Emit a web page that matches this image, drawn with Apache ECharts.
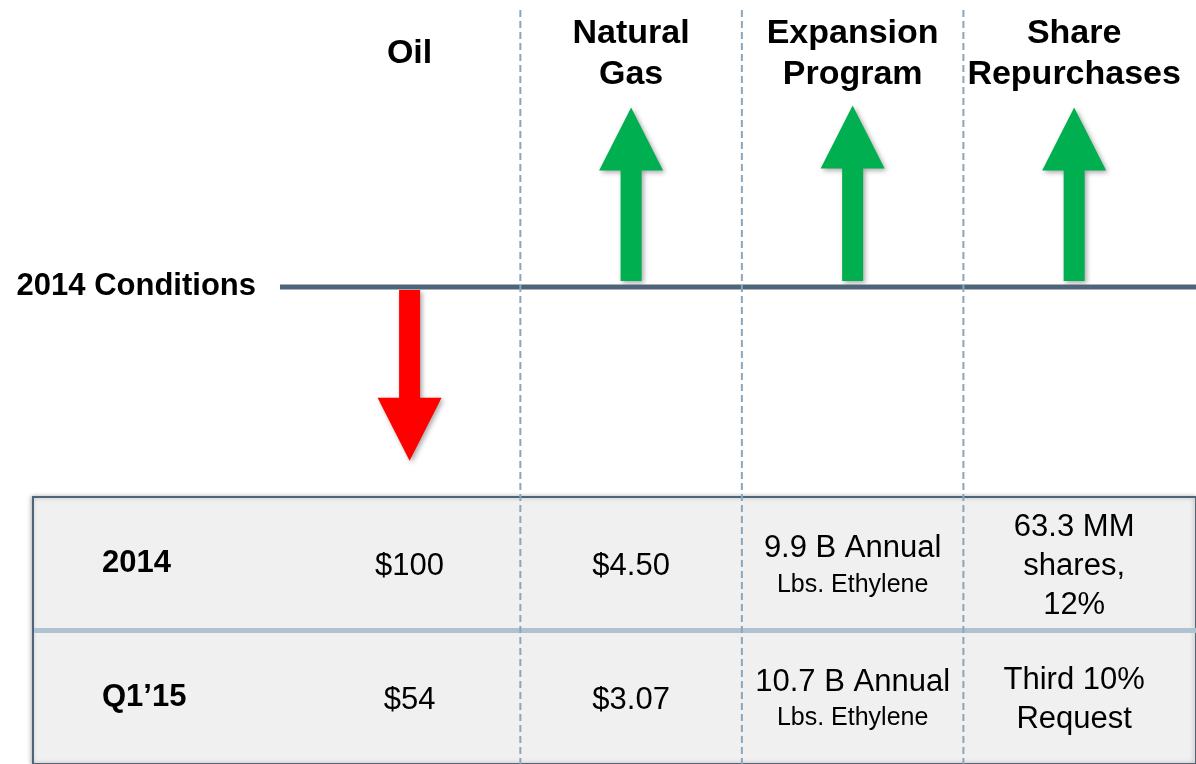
<!DOCTYPE html>
<html>
<head>
<meta charset="utf-8">
<script src="https://cdn.jsdelivr.net/npm/echarts@6/dist/echarts.min.js"></script>
<style>
  html, body { margin: 0; padding: 0; background: #fff; }
  #chart { width: 1196px; height: 764px; }
</style>
</head>
<body>
<div id="chart"></div>
<script>
// columns of the slide
const columns = ['Oil', 'Natural Gas', 'Expansion Program', 'Share Repurchases']
// arrow length per column, measured from the 2014 level (negative = down)
const arrowChange = [-0.91, 0.94, 0.95, 0.94]
const baselineLabel = '2014 Conditions'

// table rows
const rowLabels = ['2014', 'Q1\u201915']
const oilPrice = ['$100', '$54']
const gasPrice = ['$4.50', '$3.07']
const ethyleneCapacity = ['9.9 B Annual', '10.7 B Annual']
const ethyleneUnit = 'Lbs. Ethylene'
const repurchases = ['63.3 MM\nshares,\n12%', 'Third 10%\nRequest']

const FONT = '"Liberation Sans", Arial, Helvetica, sans-serif'
const SLATE = '#4E6479'
const DIVIDER = '#8DA5BB'

const chart = echarts.init(document.getElementById('chart'))

// x positions: label column is 0, data columns are 1..n
const colX = columns.map((_, i) => i + 1)
const boundaries = columns.slice(1).map((_, i) => i + 1.5)

const tableCells = []
rowLabels.forEach((_, r) => {
  tableCells.push([1, r, oilPrice[r], 'plain'])
  tableCells.push([2, r, gasPrice[r], 'plain'])
  tableCells.push([3, r, ethyleneCapacity[r], 'unit'])
  tableCells.push([4, r, repurchases[r], 'plain'])
})

const xAxisBase = {
  type: 'value',
  min: -0.7,
  max: 4.55,
  axisLine: { show: false },
  axisTick: { show: false },
  splitLine: { show: false },
}

chart.setOption({
  backgroundColor: '#ffffff',
  animation: false,
  textStyle: { fontFamily: FONT },
  grid: [
    { left: 33, right: -7, top: 96, height: 401 },
    {
      left: 33, right: -7, top: 497, bottom: -3,
      show: true,
      backgroundColor: '#F0F0F0',
      borderColor: SLATE,
      borderWidth: 2,
      shadowColor: 'rgba(0,0,0,0.25)',
      shadowBlur: 4,
      shadowOffsetX: -1,
    },
  ],
  xAxis: [
    {
      ...xAxisBase,
      gridIndex: 0,
      position: 'top',
      axisLabel: {
        customValues: colX,
        margin: 1,
        verticalAlign: 'bottom',
        formatter: (v) => {
          const words = columns[v - 1].split(' ')
          if (words.length === 1) return '{one|' + words[0] + '}'
          return words.map((w) => '{two|' + w + '}').join('\n')
        },
        rich: {
          one: { fontSize: 34, fontWeight: 'bold', color: '#000', lineHeight: 82, fontFamily: FONT },
          two: { fontSize: 34, fontWeight: 'bold', color: '#000', lineHeight: 41, fontFamily: FONT },
        },
      },
    },
    { ...xAxisBase, gridIndex: 1, axisLabel: { show: false } },
  ],
  yAxis: [
    {
      type: 'value',
      gridIndex: 0,
      min: -1.1,
      max: 1,
      axisLine: { show: false },
      axisTick: { show: false },
      splitLine: { show: false },
      axisLabel: {
        customValues: [0],
        margin: -223,
        formatter: () => baselineLabel,
        fontSize: 31,
        fontWeight: 'bold',
        color: '#000',
        fontFamily: FONT,
      },
    },
    {
      type: 'category',
      gridIndex: 1,
      inverse: true,
      data: rowLabels,
      axisLine: { show: false },
      axisTick: { show: false },
      splitLine: { show: false },
      axisLabel: {
        margin: -69,
        align: 'left',
        fontSize: 31,
        fontWeight: 'bold',
        color: '#000',
        fontFamily: FONT,
        padding: [6, 0, 0, 0],
      },
    },
  ],
  series: [
    {
      // row separators of the table
      type: 'custom',
      xAxisIndex: 1,
      yAxisIndex: 1,
      z: 2,
      silent: true,
      data: rowLabels.slice(1).map((_, i) => [0, i]),
      renderItem: (params, api) => {
        const cs = params.coordSys
        const band = api.size([0, 1])[1]
        const y = api.coord([0, api.value(1)])[1] + band / 2
        return {
          type: 'line',
          shape: { x1: cs.x + 1, y1: y, x2: cs.x + cs.width, y2: y },
          style: { stroke: '#AFC2D2', lineWidth: 5 },
        }
      },
    },
    {
      // table cell texts
      type: 'custom',
      xAxisIndex: 1,
      yAxisIndex: 1,
      z: 4,
      silent: true,
      data: tableCells,
      renderItem: (params, api) => {
        const p = api.coord([api.value(0), api.value(1)])
        const item = tableCells[params.dataIndex]
        const text = item[3] === 'unit'
          ? '{big|' + item[2] + '}\n{small|' + ethyleneUnit + '}'
          : item[2].split('\n').map((l) => '{multi|' + l + '}').join('\n')
        return {
          type: 'text',
          x: p[0],
          y: p[1] + 3,
          style: {
            text: text,
            align: 'center',
            verticalAlign: 'middle',
            fill: '#000',
            rich: {
              big: { fontSize: 31, lineHeight: 36, fontFamily: FONT, fill: '#000' },
              small: { fontSize: 25, lineHeight: 36, fontFamily: FONT, fill: '#000' },
              multi: { fontSize: 31, lineHeight: 39, fontFamily: FONT, fill: '#000' },
            },
          },
        }
      },
    },
    {
      // 2014 conditions level
      type: 'custom',
      xAxisIndex: 0,
      yAxisIndex: 0,
      z: 3,
      silent: true,
      data: [[0, 0]],
      renderItem: (params, api) => {
        const cs = params.coordSys
        const y = api.coord([0, api.value(1)])[1]
        return {
          type: 'line',
          shape: { x1: 280, y1: y, x2: cs.x + cs.width, y2: y },
          style: { stroke: SLATE, lineWidth: 5 },
        }
      },
    },
    {
      // dashed column dividers
      type: 'custom',
      xAxisIndex: 0,
      yAxisIndex: 0,
      z: 5,
      silent: true,
      data: boundaries.map((b) => [b, 1.45, -2.6]),
      renderItem: (params, api) => {
        const top = api.coord([api.value(0), api.value(1)])
        const bottom = api.coord([api.value(0), api.value(2)])
        return {
          type: 'line',
          shape: { x1: top[0], y1: top[1], x2: bottom[0], y2: bottom[1] },
          style: { stroke: DIVIDER, lineWidth: 2, lineDash: [7, 4] },
        }
      },
    },
    {
      // change arrows
      type: 'custom',
      xAxisIndex: 0,
      yAxisIndex: 0,
      z: 2,
      silent: true,
      data: colX.map((x, i) => [x, arrowChange[i]]),
      renderItem: (params, api) => {
        const v = api.value(1)
        const base = api.coord([api.value(0), 0])
        const tip = api.coord([api.value(0), v])
        const dir = v >= 0 ? -1 : 1
        const cx = base[0]
        const start = base[1] + dir * (v >= 0 ? 6 : 3)
        const headH = 63
        const headW = 32
        const shaftW = 10.5
        const neck = tip[1] - dir * headH
        return {
          type: 'polygon',
          shape: {
            points: [
              [cx - shaftW, start],
              [cx - shaftW, neck],
              [cx - headW, neck],
              [cx, tip[1]],
              [cx + headW, neck],
              [cx + shaftW, neck],
              [cx + shaftW, start],
            ],
          },
          style: {
            fill: v >= 0 ? '#00B050' : '#FF0000',
            shadowColor: 'rgba(0,0,0,0.35)',
            shadowBlur: 5,
            shadowOffsetX: 2,
            shadowOffsetY: 2,
          },
        }
      },
    },
  ],
})
</script>
</body>
</html>
